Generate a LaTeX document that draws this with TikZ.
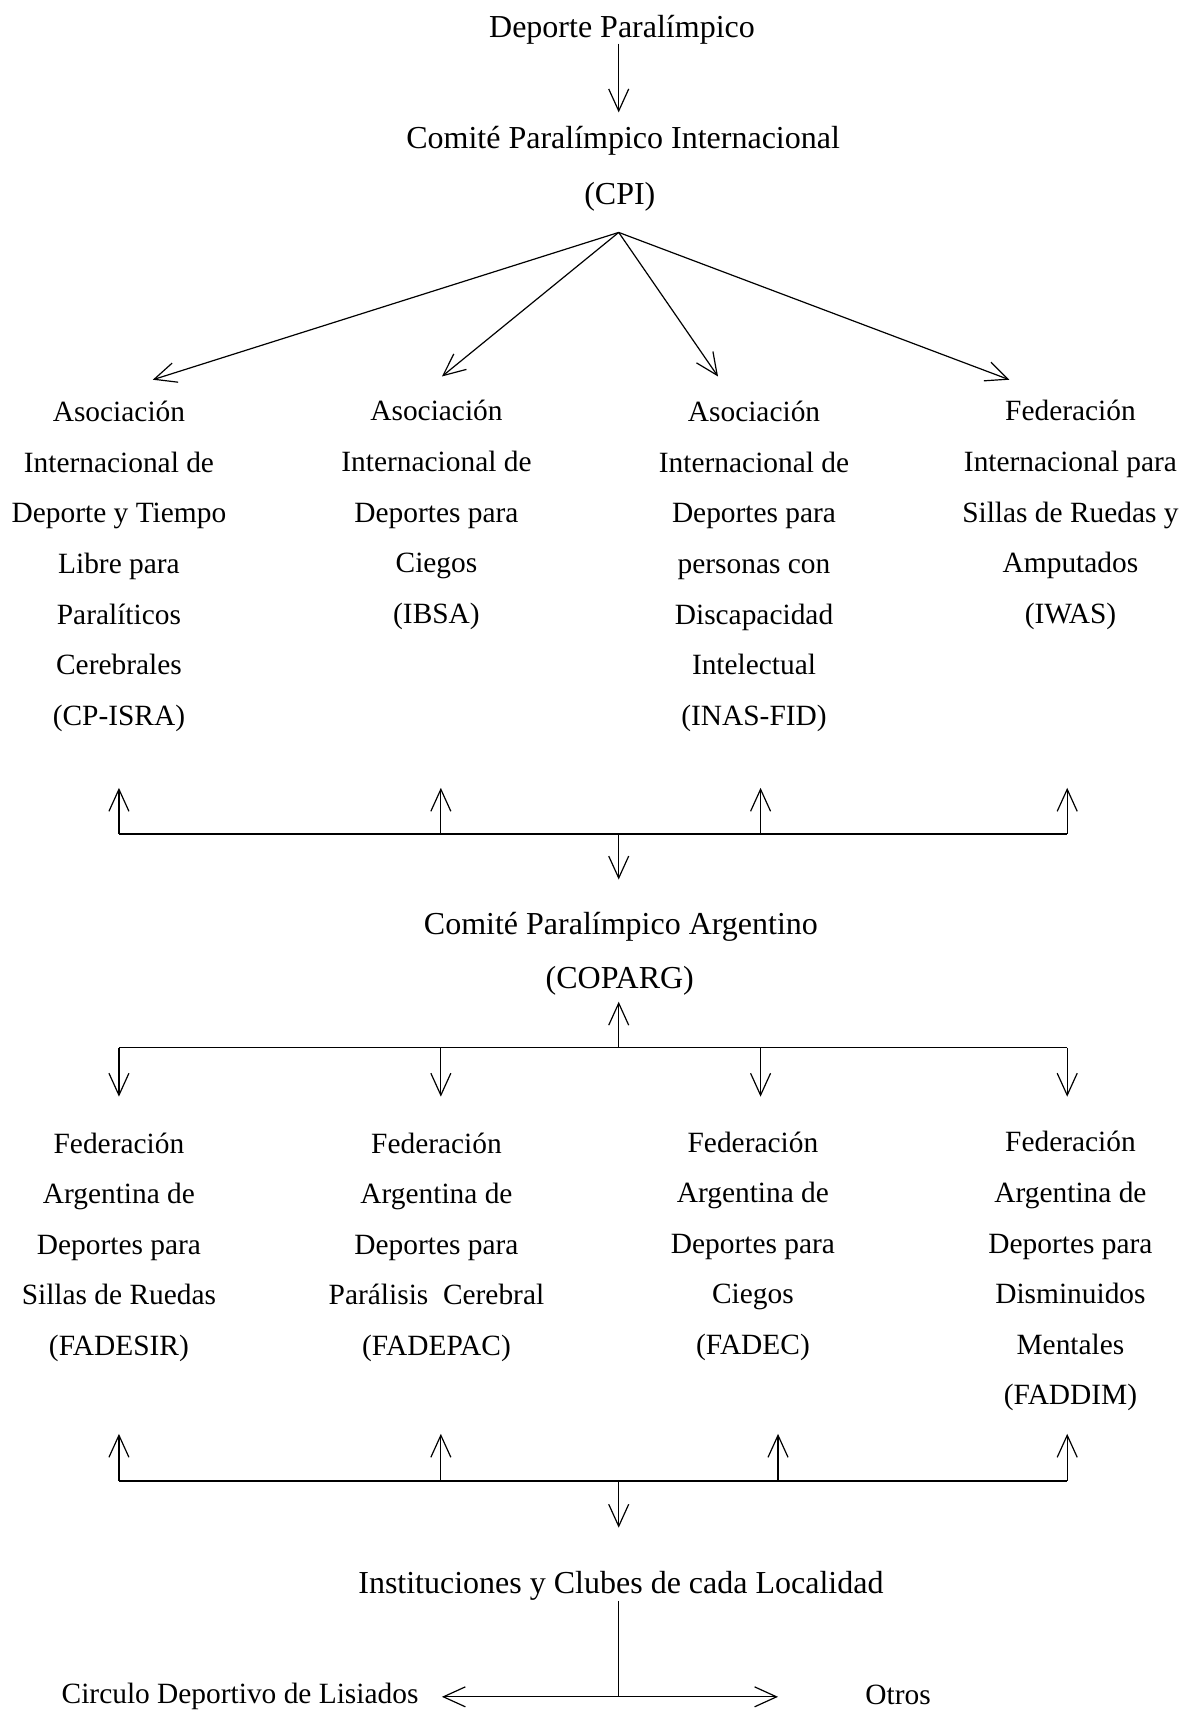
\documentclass[tikz,border=0pt]{standalone}
\usepackage{fontspec}
\setmainfont{Liberation Serif}
\usetikzlibrary{arrows.meta}

\begin{document}
\begin{tikzpicture}[x=0.5457pt, y=-0.5457pt,
    head/.style={align=center, inner sep=0pt, font=\fontsize{16}{25.3}\selectfont},
    col/.style={align=center, inner sep=0pt, font=\fontsize{14.7}{25.3}\selectfont},
    arr/.style={-{Straight Barb[length=11pt, width=10pt]}, line width=0.6pt},
    bar/.style={line width=0.9pt}]
            \useasboundingbox (0,0) rectangle (1084,1568);

            % international level
            \node[head] (dp) at (570,27) {Deporte Paralímpico};
            \node[head] (cpi) at (571,129) {Comité Paralímpico Internacional};
            \node[head] (cpiab) at (568,180) {(CPI)};

            \node[col] (cpisra) at (109,519) {Asociación\\Internacional de\\Deporte y Tiempo\\Libre para\\Paralíticos\\Cerebrales\\(CP-ISRA)};
            \node[col] (ibsa) at (400,472) {Asociación\\Internacional de\\Deportes para\\Ciegos\\(IBSA)};
            \node[col] (inas) at (691,519) {Asociación\\Internacional de\\Deportes para\\personas con\\Discapacidad\\Intelectual\\(INAS-FID)};
            \node[col] (iwas) at (981,472) {Federación\\Internacional para\\Sillas de Ruedas y\\Amputados\\(IWAS)};

            \coordinate (fork) at (567,213);
            \coordinate (f1) at (140,348);
            \coordinate (f2) at (405,345);
            \coordinate (f3) at (658,345);
            \coordinate (f4) at (925,348);

            \draw[arr] (567,40) -- (567,103);
            \draw[arr] (fork) -- (f1);
            \draw[arr] (fork) -- (f2);
            \draw[arr] (fork) -- (f3);
            \draw[arr] (fork) -- (f4);

            % national level
            \node[head] (cpa) at (569,849) {Comité Paralímpico Argentino};
            \node[head] (cpaab) at (568,899) {(COPARG)};

            \coordinate (mid1) at (567,764);
            \draw[bar] (109,764) -- (978,764);
            \draw[arr] (109,764) -- (109,722);
            \draw[arr] (404,764) -- (404,722);
            \draw[arr] (697,764) -- (697,722);
            \draw[arr] (978,764) -- (978,722);
            \draw[arr] (mid1) -- (567,806);

            \coordinate (mid2) at (567,960);
            \draw[bar] (109,960) -- (978,960);
            \draw[arr] (mid2) -- (567,918);
            \draw[arr] (109,960) -- (109,1005);
            \draw[arr] (404,960) -- (404,1005);
            \draw[arr] (697,960) -- (697,1005);
            \draw[arr] (978,960) -- (978,1005);

            \node[col] (fadesir) at (109,1143) {Federación\\Argentina de\\Deportes para\\Sillas de Ruedas\\(FADESIR)};
            \node[col] (fadepac) at (400,1143) {Federación\\Argentina de\\Deportes para\\Parálisis\ \ Cerebral\\(FADEPAC)};
            \node[col] (fadec) at (690,1142) {Federación\\Argentina de\\Deportes para\\Ciegos\\(FADEC)};
            \node[col] (faddim) at (981,1165) {Federación\\Argentina de\\Deportes para\\Disminuidos\\Mentales\\(FADDIM)};

            % local level
            \coordinate (mid3) at (567,1357);
            \draw[bar] (109,1357) -- (978,1357);
            \draw[arr] (109,1357) -- (109,1314);
            \draw[arr] (404,1357) -- (404,1314);
            \draw[arr] (713,1357) -- (713,1314);
            \draw[arr] (978,1357) -- (978,1314);
            \draw[arr] (mid3) -- (567,1400);

            \node[head] (inst) at (569,1453) {Instituciones y Clubes de cada Localidad};
            \node[col] (cdl) at (220,1555) {Circulo Deportivo de Lisiados};
            \node[col] (otros) at (823,1553) {Otros};

            \coordinate (mid4) at (567,1555);
            \draw[line width=0.6pt] (567,1467) -- (mid4);
            \draw[arr] (mid4) -- (405,1555);
            \draw[arr] (mid4) -- (713,1555);

        \end{tikzpicture}
\end{document}
